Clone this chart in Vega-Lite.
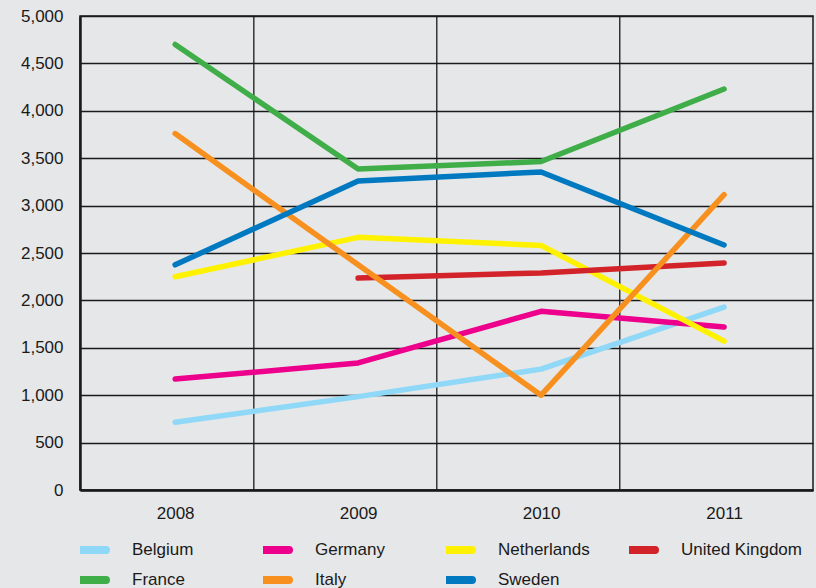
{
  "$schema": "https://vega.github.io/schema/vega-lite/v6.json",
  "width": 733,
  "height": 474,
  "autosize": {"type": "none"},
  "padding": {"left": 80, "top": 16, "right": 3, "bottom": 98},
  "background": "#E6E7E8",
  "config": {
    "font": "Liberation Sans",
    "view": {"stroke": "#1a1a1a", "strokeWidth": 1.5},
    "axis": {"labelFont": "Liberation Sans", "labelFontSize": 17, "labelColor": "#1a1a1a", "tickSize": 0, "title": null}
  },
  "datasets": {
    "series": [
      {"country": "Belgium", "year": 2008, "value": 715},
      {"country": "Belgium", "year": 2009, "value": 985},
      {"country": "Belgium", "year": 2010, "value": 1275},
      {"country": "Belgium", "year": 2011, "value": 1930},
      {"country": "Germany", "year": 2008, "value": 1170},
      {"country": "Germany", "year": 2009, "value": 1340},
      {"country": "Germany", "year": 2010, "value": 1885},
      {"country": "Germany", "year": 2011, "value": 1720},
      {"country": "Netherlands", "year": 2008, "value": 2250},
      {"country": "Netherlands", "year": 2009, "value": 2665},
      {"country": "Netherlands", "year": 2010, "value": 2580},
      {"country": "Netherlands", "year": 2011, "value": 1570},
      {"country": "United Kingdom", "year": 2009, "value": 2235},
      {"country": "United Kingdom", "year": 2010, "value": 2290},
      {"country": "United Kingdom", "year": 2011, "value": 2395},
      {"country": "France", "year": 2008, "value": 4700},
      {"country": "France", "year": 2009, "value": 3385},
      {"country": "France", "year": 2010, "value": 3465},
      {"country": "France", "year": 2011, "value": 4230},
      {"country": "Italy", "year": 2008, "value": 3760},
      {"country": "Italy", "year": 2009, "value": 2375},
      {"country": "Italy", "year": 2010, "value": 1000},
      {"country": "Italy", "year": 2011, "value": 3115},
      {"country": "Sweden", "year": 2008, "value": 2375},
      {"country": "Sweden", "year": 2009, "value": 3260},
      {"country": "Sweden", "year": 2010, "value": 3355},
      {"country": "Sweden", "year": 2011, "value": 2585}
    ],
    "dividers": [
      {"year": 2008.43},
      {"year": 2009.43},
      {"year": 2010.43}
    ]
  },
  "layer": [
    {
      "data": {"name": "dividers"},
      "mark": {"type": "rule", "color": "#1a1a1a", "strokeWidth": 1.3},
      "encoding": {
        "x": {"field": "year", "type": "quantitative", "scale": {"domain": [2007.48, 2011.486], "nice": false, "zero": false}}
      }
    },
    {
      "data": {"name": "series"},
      "mark": {"type": "line", "strokeWidth": 5.5, "strokeCap": "round", "strokeJoin": "round"},
      "encoding": {
        "x": {
          "field": "year", "type": "quantitative",
          "scale": {"domain": [2007.48, 2011.486], "nice": false, "zero": false},
          "axis": {"values": [2008, 2009, 2010, 2011], "format": "d", "grid": false, "domainColor": "#1a1a1a", "domainWidth": 2.5, "labelPadding": 15}
        },
        "y": {
          "field": "value", "type": "quantitative",
          "scale": {"domain": [0, 5000], "nice": false},
          "axis": {"values": [0, 500, 1000, 1500, 2000, 2500, 3000, 3500, 4000, 4500, 5000], "format": ",.0f", "grid": true, "gridColor": "#1a1a1a", "gridOpacity": 1, "gridWidth": 1.3, "domainColor": "#1a1a1a", "domainWidth": 2.5, "labelPadding": 17}
        },
        "color": {
          "field": "country", "type": "nominal",
          "scale": {
            "domain": ["Belgium", "Germany", "Netherlands", "United Kingdom", "France", "Italy", "Sweden"],
            "range": ["#8FD8F7", "#EC008C", "#FFF200", "#D2232A", "#3FAE49", "#F7901E", "#0079C1"]
          },
          "legend": {
            "title": null,
            "orient": "none",
            "legendX": 0,
            "legendY": 522,
            "direction": "horizontal",
            "columns": 4,
            "gridAlign": "all",
            "columnPadding": 10,
            "rowPadding": 6,
            "clipHeight": 24,
            "symbolType": "M-2,0H2",
            "symbolSize": 210,
            "symbolStrokeWidth": 8,
            "labelFontSize": 17,
            "labelColor": "#1a1a1a",
            "labelOffset": 29,
            "labelLimit": 300,
            "encode": {"symbols": {"update": {"strokeCap": {"value": "round"}}}}
          }
        }
      }
    }
  ]
}
